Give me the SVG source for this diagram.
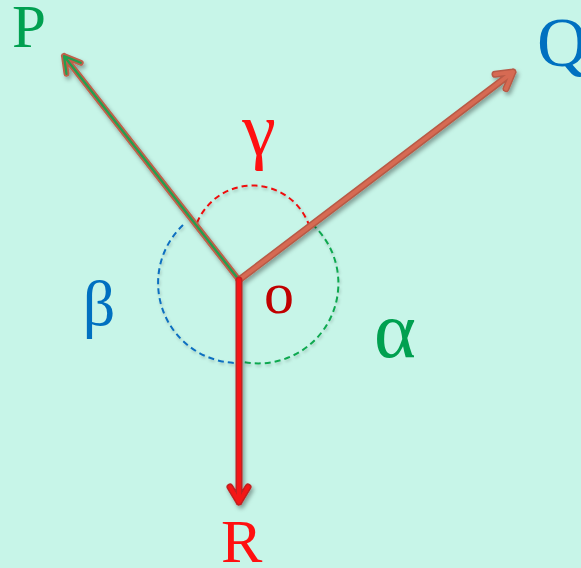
<svg xmlns="http://www.w3.org/2000/svg" width="581" height="568" viewBox="0 0 581 568">
<defs>
<filter id="sh" x="-20%" y="-20%" width="140%" height="140%">
<feDropShadow dx="2" dy="3" stdDeviation="2" flood-color="#000" flood-opacity="0.35"/>
</filter>
<filter id="sh2" x="-20%" y="-20%" width="140%" height="140%">
<feDropShadow dx="1" dy="2" stdDeviation="1.5" flood-color="#000" flood-opacity="0.2"/>
</filter>
<style>
.lbl{font-family:"Liberation Serif","Times New Roman",serif;}
.arc{fill:none;stroke-width:2;stroke-dasharray:6 4;}
.ar{fill:none;stroke-linecap:round;stroke-linejoin:round;}
</style>
</defs>
<rect width="581" height="568" fill="#c7f5e8"/>
<g id="arcs" filter="url(#sh2)">
<path id="arc-gamma" class="arc" stroke="#ee1111" d="M197,223 A60,60 0 0 1 310,228"/>
<path id="arc-beta" class="arc" stroke="#1070c0" d="M183,225 A80,80 0 0 0 238,363"/>
<path id="arc-alpha" class="arc" stroke="#10a850" d="M312,224 A80,80 0 0 1 239,361"/>
</g>
<g id="connectors" filter="url(#sh)">
<g id="arrow-P">
<path class="ar" stroke="#c0604a" stroke-width="6" d="M239,280 L64,56 M66.5,73.8 L64,56 L80.7,62.8"/>
<path class="ar" stroke="#20a050" stroke-width="2.2" d="M239,280 L64,56 M66.5,73.8 L64,56 L80.7,62.8"/>
</g>
<g id="arrow-Q">
<path class="ar" stroke="#b85a46" stroke-width="7" d="M239,280 L513,72 M495,74.3 L513,72 L506,88.6"/>
<path class="ar" stroke="#d66a52" stroke-width="4" d="M239,280 L513,72 M495,74.3 L513,72 L506,88.6"/>
</g>
<g id="arrow-R">
<path class="ar" stroke="#c02020" stroke-width="7" d="M239,280 L239,502 M230,487 L239,502 L248,487"/>
<path class="ar" stroke="#f41818" stroke-width="4" d="M239,280 L239,502 M230,487 L239,502 L248,487"/>
</g>
</g>
<g id="node-P"><text class="lbl" x="12" y="47" font-size="61" fill="#00a050">P</text></g>
<g id="node-Q"><text class="lbl" x="537" y="66" font-size="70" fill="#0070c0">Q</text></g>
<g id="node-R"><text class="lbl" x="221" y="562" font-size="62" fill="#ff1010">R</text></g>
<g id="node-O"><text class="lbl" x="279" y="313" font-size="60" fill="#c00000" text-anchor="middle">o</text></g>
<g id="label-gamma"><text class="lbl" x="259" y="155" font-size="76" fill="#ff1010" text-anchor="middle">γ</text></g>
<g id="label-beta"><text class="lbl" x="99" y="325" font-size="64" fill="#0070c0" text-anchor="middle">β</text></g>
<g id="label-alpha"><text class="lbl" x="395" y="357" font-size="80" fill="#00a050" text-anchor="middle">α</text></g>
</svg>
